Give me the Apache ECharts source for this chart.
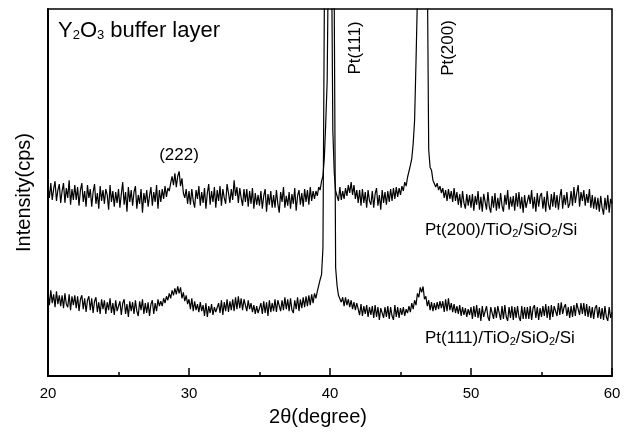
<!DOCTYPE html>
<html>
<head>
<meta charset="utf-8">
<script src="https://cdn.jsdelivr.net/npm/echarts@6/dist/echarts.min.js"></script>
<style>
  html, body { margin: 0; padding: 0; background: #fff; }
  #chart { width: 628px; height: 432px; }
</style>
</head>
<body>
<div id="chart"></div>
<script>
// 2θ scan: 20° to 60°, step 0.1°
const angleStart = 20;
const angleStep = 0.1;
const xTicks = [20, 30, 40, 50, 60];

// Pt(200)/TiO2/SiO2/Si, intensity (arb. units, one row per degree)
const pt200Trace = [
  193, 181, 196, 179, 190, 198, 178, 189, 195, 176,
  188, 196, 176, 191, 181, 199, 174, 190, 179, 194,
  179, 192, 173, 189, 196, 177, 188, 172, 194, 181,
  190, 172, 187, 195, 175, 186, 170, 193, 178, 189,
  175, 190, 184, 169, 194, 177, 188, 172, 187, 176,
  190, 171, 185, 197, 174, 187, 167, 192, 177, 189,
  173, 187, 193, 170, 184, 175, 190, 166, 186, 176,
  189, 172, 183, 192, 173, 187, 177, 194, 170, 189,
  177, 190, 180, 193, 182, 191, 188, 196, 203, 194,
  206, 192, 203, 208, 193, 201, 186, 181, 190, 175,
  188, 174, 190, 178, 171, 189, 180, 193, 173, 187,
  176, 191, 170, 186, 195, 174, 188, 177, 192, 171,
  189, 178, 193, 173, 190, 181, 175, 195, 186, 176,
  190, 179, 199, 183, 192, 176, 191, 181, 173, 190,
  177, 190, 172, 188, 175, 191, 170, 186, 174, 184,
  173, 188, 170, 183, 190, 167, 185, 174, 188, 171,
  184, 171, 189, 175, 166, 187, 177, 192, 171, 183,
  173, 187, 170, 185, 175, 191, 168, 183, 189, 174,
  186, 172, 190, 177, 189, 174, 192, 178, 188, 180,
  188, 183, 192, 189, 198, 203, 222, 258, 300, 450,
  2000, 450, 250, 207, 188, 190, 178, 192, 179, 188,
  180, 191, 183, 194, 186, 197, 184, 194, 180, 189,
  176, 189, 173, 190, 176, 187, 171, 189, 178, 174,
  188, 171, 185, 191, 173, 184, 169, 189, 176, 187,
  174, 188, 177, 190, 178, 191, 180, 192, 182, 191,
  184, 193, 188, 197, 193, 202, 204, 214, 221, 236,
  260, 320, 385, 800, 2000, 3000, 3000, 2000, 900, 420,
  230, 212, 209, 199, 201, 192, 196, 189, 193, 186,
  191, 181, 189, 178, 190, 180, 188, 177, 191, 178,
  187, 174, 185, 171, 188, 176, 170, 185, 173, 184,
  171, 185, 168, 183, 174, 188, 169, 182, 167, 185,
  184, 169, 187, 172, 166, 183, 171, 186, 168, 181,
  170, 186, 173, 167, 184, 174, 189, 169, 182, 172,
  183, 168, 186, 172, 187, 170, 182, 166, 184, 171,
  169, 184, 175, 189, 170, 182, 167, 186, 172, 183,
  186, 170, 182, 167, 188, 174, 169, 185, 172, 187,
  171, 184, 169, 182, 190, 170, 184, 174, 187, 171,
  175, 188, 173, 192, 176, 186, 194, 172, 187, 178,
  189, 173, 185, 176, 190, 171, 184, 170, 182, 169,
  181, 167, 183, 171, 164, 181, 169, 184, 166, 180,
  175
];

// Pt(111)/TiO2/SiO2/Si
const pt111Trace = [
  85, 72, 87, 74, 83, 70, 86, 73, 82, 71,
  82, 69, 84, 73, 70, 83, 67, 81, 72, 82,
  69, 81, 66, 78, 82, 68, 79, 65, 77, 81,
  67, 79, 64, 76, 80, 65, 75, 63, 78, 68,
  77, 63, 75, 67, 79, 64, 74, 62, 77, 66,
  65, 76, 62, 74, 78, 63, 73, 60, 76, 66,
  75, 63, 77, 66, 61, 76, 67, 78, 63, 74,
  64, 75, 61, 73, 77, 63, 74, 66, 78, 71,
  76, 71, 79, 74, 81, 77, 84, 79, 87, 82,
  89, 83, 91, 84, 90, 79, 85, 76, 82, 73,
  78, 68, 79, 66, 76, 67, 73, 65, 75, 66,
  72, 61, 74, 60, 71, 64, 73, 62, 70, 65,
  63, 74, 64, 77, 62, 75, 66, 78, 65, 76,
  67, 78, 66, 80, 68, 81, 69, 79, 67, 78,
  76, 66, 77, 68, 74, 65, 72, 63, 71, 64,
  62, 74, 63, 76, 64, 75, 61, 77, 65, 74,
  66, 78, 65, 77, 79, 66, 77, 67, 80, 68,
  78, 66, 79, 67, 64, 77, 68, 80, 66, 78,
  69, 80, 70, 81, 71, 82, 72, 83, 74, 84,
  79, 86, 88, 98, 103, 130, 380, 900, 1800, 2500,
  2500, 1500, 700, 380, 110, 92, 82, 84, 75, 80,
  71, 80, 72, 78, 70, 77, 68, 75, 67, 74,
  74, 62, 73, 61, 71, 63, 72, 60, 70, 62,
  71, 59, 72, 60, 70, 57, 69, 71, 59, 70,
  60, 71, 58, 70, 61, 57, 72, 60, 70, 59,
  69, 62, 70, 61, 68, 64, 71, 65, 74, 68,
  77, 72, 84, 80, 90, 85, 91, 78, 81, 71,
  77, 67, 75, 66, 74, 67, 75, 68, 76, 69,
  76, 65, 78, 66, 79, 67, 74, 65, 73, 64,
  71, 63, 72, 61, 70, 62, 69, 60, 68, 62,
  70, 58, 71, 60, 72, 59, 69, 56, 71, 60,
  58, 71, 60, 56, 70, 72, 58, 70, 59, 71,
  69, 57, 71, 58, 72, 60, 56, 70, 59, 71,
  57, 70, 59, 71, 60, 56, 71, 58, 70, 58,
  70, 58, 71, 57, 69, 72, 59, 70, 57, 69,
  60, 71, 61, 73, 59, 71, 57, 72, 60, 71,
  73, 61, 74, 62, 75, 63, 70, 73, 61, 70,
  59, 71, 60, 72, 61, 74, 75, 62, 74, 63,
  74, 61, 73, 60, 71, 59, 70, 58, 69, 72,
  59, 70, 58, 69, 57, 71, 60, 56, 70, 59,
  65
];

const toPairs = (values) =>
  values.map((v, i) => [+(angleStart + i * angleStep).toFixed(1), v]);

const font = "'Liberation Sans', Arial, sans-serif";

const chart = echarts.init(document.getElementById("chart"));

const option = {
  animation: false,
  backgroundColor: "#fff",
  grid: {
    left: 48,
    right: 16,
    top: 9,
    bottom: 50,
    show: true,
    borderColor: "#000",
    borderWidth: 1.5,
    backgroundColor: "transparent",
  },
  xAxis: {
    type: "value",
    min: xTicks[0],
    max: xTicks[xTicks.length - 1],
    interval: 10,
    name: "2θ(degree)",
    nameLocation: "middle",
    nameGap: 31,
    nameTextStyle: {
      fontFamily: font,
      fontSize: 20,
      color: "#000",
      padding: [0, 24, 0, 0],
    },
    axisLine: { onZero: false, lineStyle: { color: "#000", width: 2 } },
    axisTick: { inside: true, length: 8, lineStyle: { color: "#000", width: 1.5 } },
    minorTick: { show: true, splitNumber: 2, length: 4, lineStyle: { color: "#000", width: 1.5 } },
    axisLabel: { fontFamily: font, fontSize: 15, color: "#000", margin: 10 },
    splitLine: { show: false },
  },
  yAxis: {
    type: "value",
    min: 0,
    max: 373,
    name: "Intensity(cps)",
    nameLocation: "middle",
    nameGap: 14,
    nameTextStyle: { fontFamily: font, fontSize: 20, color: "#000" },
    axisLine: { show: true, lineStyle: { color: "#000", width: 2 } },
    axisTick: { show: false },
    axisLabel: { show: false },
    splitLine: { show: false },
  },
  series: [
    {
      name: "Pt(200)/TiO2/SiO2/Si",
      type: "line",
      data: toPairs(pt200Trace),
      showSymbol: false,
      clip: true,
      sampling: "none",
      lineStyle: { color: "#000", width: 1.2 },
    },
    {
      name: "Pt(111)/TiO2/SiO2/Si",
      type: "line",
      data: toPairs(pt111Trace),
      showSymbol: false,
      clip: true,
      sampling: "none",
      lineStyle: { color: "#000", width: 1.2 },
    },
  ],
  graphic: [
    {
      type: "text",
      left: 58,
      top: 20,
      style: {
        text: "Y{s|2}O{s|3} buffer layer",
        fontFamily: font,
        fontSize: 22,
        fill: "#000",
        rich: { s: { fontFamily: font, fontSize: 13, lineHeight: 4, verticalAlign: "bottom" } },
      },
    },
    {
      type: "text",
      x: 179,
      y: 155,
      style: { text: "(222)", fontFamily: font, fontSize: 17, fill: "#000", align: "center", verticalAlign: "middle" },
    },
    {
      type: "text",
      x: 355,
      y: 48,
      rotation: Math.PI / 2,
      style: { text: "Pt(111)", fontFamily: font, fontSize: 17, fill: "#000", align: "center", verticalAlign: "middle" },
    },
    {
      type: "text",
      x: 448,
      y: 48,
      rotation: Math.PI / 2,
      style: { text: "Pt(200)", fontFamily: font, fontSize: 17, fill: "#000", align: "center", verticalAlign: "middle" },
    },
    {
      type: "text",
      left: 425,
      top: 222,
      style: {
        text: "Pt(200)/TiO{s|2}/SiO{s|2}/Si",
        fontFamily: font,
        fontSize: 17,
        fill: "#000",
        rich: { s: { fontFamily: font, fontSize: 11, lineHeight: 3, verticalAlign: "bottom" } },
      },
    },
    {
      type: "text",
      left: 425,
      top: 330,
      style: {
        text: "Pt(111)/TiO{s|2}/SiO{s|2}/Si",
        fontFamily: font,
        fontSize: 17,
        fill: "#000",
        rich: { s: { fontFamily: font, fontSize: 11, lineHeight: 3, verticalAlign: "bottom" } },
      },
    },
  ],
};

chart.setOption(option);
</script>
</body>
</html>
